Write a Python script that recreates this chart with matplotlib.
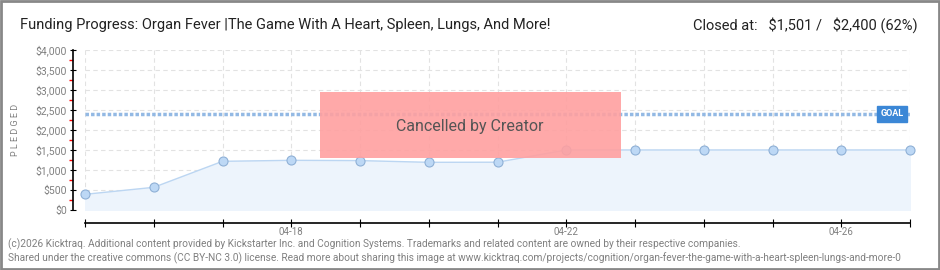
import matplotlib.pyplot as plt
import matplotlib as mpl
from matplotlib.patches import Rectangle
import numpy as np

dates = ['04-15', '04-16', '04-17', '04-18', '04-19', '04-20', '04-21',
         '04-22', '04-23', '04-24', '04-25', '04-26', '04-27']
pledged = [392, 567, 1217, 1242, 1235, 1192, 1195, 1501, 1501, 1501, 1501, 1501, 1501]
goal = 2400
labeled_dates = ['04-18', '04-22', '04-26']
yticks = [0, 500, 1000, 1500, 2000, 2500, 3000, 3500, 4000]

mpl.rcParams['font.family'] = ['Roboto', 'DejaVu Sans']
mpl.rcParams['hatch.color'] = '#f29292'
mpl.rcParams['hatch.linewidth'] = 0.6

fig = plt.figure(figsize=(9.4, 2.7), dpi=100)
ax = fig.add_axes([85 / 940, 1 - 210 / 270, 825 / 940, 160 / 270])

x = np.arange(len(dates))

# area + line + points
ax.fill_between(x, pledged, 0, color='#edf4fc', zorder=1)
ax.plot(x, pledged, color='#bcd6f2', lw=1, zorder=2)
ax.plot(x, pledged, 'o', ms=6.5, mfc='#bdd8f5', mec='#8fb0d6', mew=0.8, zorder=4, clip_on=False)

# goal line
ax.axhline(goal, color='#93b9e4', lw=2.5, linestyle=(0, (1, 0.6)), zorder=3)
ax.text(len(dates) - 1.43, goal, 'GOAL', color='white', fontsize=6.5, fontweight='bold',
        ha='left', va='center', zorder=6,
        bbox=dict(boxstyle='square,pad=0.35', fc='#3b87d6', ec='#3b87d6'))

# cancelled box
ax.add_patch(Rectangle((3.42, 1300), 4.38, 1650, fc='#ffa0a0', ec='none', alpha=0.9,
                       hatch='//////', zorder=5))
ax.text(5.6, 2100, 'Cancelled by Creator', fontsize=11.5, color='#555555', ha='center',
        va='center', zorder=6)

ax.set_xlim(0, len(dates) - 1)
ax.set_ylim(0, 4000)

ax.set_yticks(yticks)
ax.set_yticklabels(['\\${:,}'.format(v) for v in yticks])
ax.set_yticks(np.arange(250, 4000, 500), minor=True)
ax.tick_params(axis='y', which='minor', length=3, color='red', width=1)
ax.tick_params(axis='y', which='major', length=4, direction='inout', color='black', pad=2,
               labelsize=7.5, labelcolor='#808080')

ax.set_xticks(x)
ax.set_xticklabels([d if d in labeled_dates else '' for d in dates])
ax.tick_params(axis='x', length=6, direction='inout', color='black', pad=0,
               labelsize=7, labelcolor='#808080')

for s in ['top', 'right']:
    ax.spines[s].set_visible(False)
ax.spines['left'].set_position(('outward', 9))
ax.spines['bottom'].set_position(('outward', 9))
ax.spines['left'].set_linewidth(1.2)
ax.spines['bottom'].set_linewidth(1.2)

ax.grid(True, color='#e2e2e2', linestyle=(0, (4, 3)), lw=0.8, zorder=0)
ax.set_axisbelow(True)

ax.set_ylabel('P L E D G E D', fontsize=6.5, color='#808080')
ax.yaxis.set_label_coords(-65 / 825, 0.5)

fig.text(20 / 940, 1 - 25 / 270, 'Funding Progress: Organ Fever |The Game With A Heart, Spleen, Lungs, And More!',
         fontsize=10.5, color='#222222', va='center', ha='left')
fig.text(918 / 940, 1 - 25 / 270, 'Closed at:   \\$1,501 /   \\$2,400 (62%)',
         fontsize=10.5, color='#222222', va='center', ha='right')

fig.text(8 / 940, 1 - 244 / 270,
         '(c)2026 Kicktraq. Additional content provided by Kickstarter Inc. and Cognition Systems. '
         'Trademarks and related content are owned by their respective companies.',
         fontsize=7.3, color='#808080', va='center', ha='left')
fig.text(8 / 940, 1 - 258 / 270,
         'Shared under the creative commons (CC BY-NC 3.0) license. Read more about sharing this image at '
         'www.kicktraq.com/projects/cognition/organ-fever-the-game-with-a-heart-spleen-lungs-and-more-0',
         fontsize=7.3, color='#808080', va='center', ha='left')

fig.add_artist(Rectangle((0.001, 0.002), 0.998, 0.996, transform=fig.transFigure,
                         fill=False, ec='#888888', lw=2))

fig.savefig('out.png', dpi=100)
